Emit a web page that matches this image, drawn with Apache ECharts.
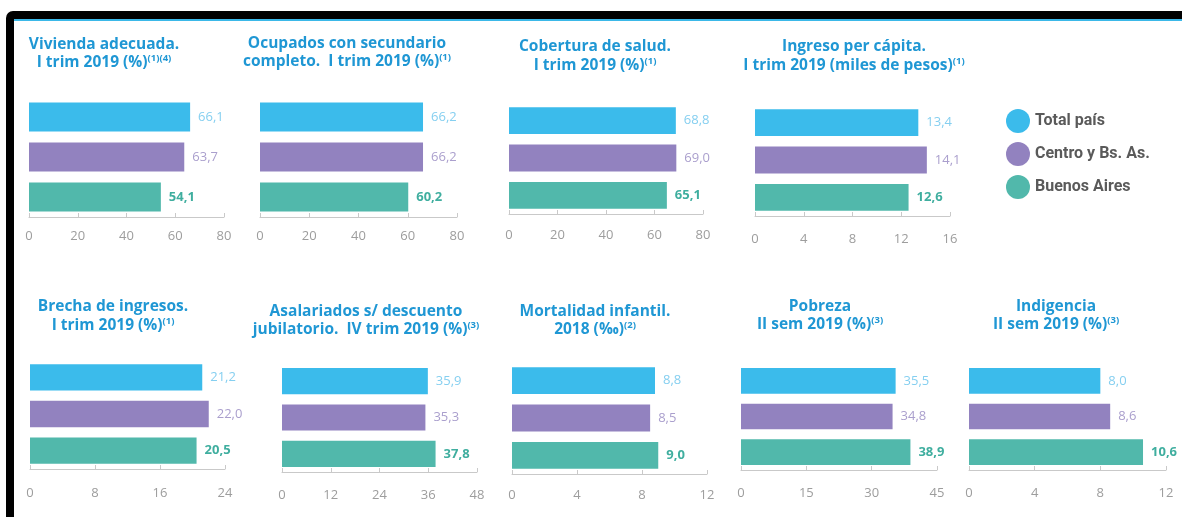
<!DOCTYPE html>
<html><head><meta charset="utf-8">
<script src="https://cdn.jsdelivr.net/npm/echarts@6/dist/echarts.min.js"></script>
<style>html,body{margin:0;padding:0;background:#fff}#c{width:1182px;height:517px}</style>
</head><body><div id="c"></div>
<script>
// ---- data ----
const categories = ['Total país', 'Centro y Bs. As.', 'Buenos Aires'];
const vivienda    = [66.1, 63.7, 54.1];
const ocupados    = [66.2, 66.2, 60.2];
const cobertura   = [68.8, 69.0, 65.1];
const ingreso     = [13.4, 14.1, 12.6];
const brecha      = [21.2, 22.0, 20.5];
const asalariados = [35.9, 35.3, 37.8];
const mortalidad  = [8.8, 8.5, 9.0];
const pobreza     = [35.5, 34.8, 38.9];
const indigencia  = [8.0, 8.6, 10.6];
const axisMax      = [80, 80, 80, 16, 24, 48, 12, 45, 12];
const axisInterval = [20, 20, 20, 4, 8, 12, 4, 15, 4];
const titleLine1 = ['Vivienda adecuada.', 'Ocupados con secundario', 'Cobertura de salud.', 'Ingreso per cápita.',
  'Brecha de ingresos.', 'Asalariados s/ descuento', 'Mortalidad infantil.', 'Pobreza', 'Indigencia'];
const titleLine2 = ['I trim 2019 (%)', 'completo.  I trim 2019 (%)', 'I trim 2019 (%)', 'I trim 2019 (miles de pesos)',
  'I trim 2019 (%)', 'jubilatorio.  IV trim 2019 (%)', '2018 (‰)', 'II sem 2019 (%)', 'II sem 2019 (%)'];
const titleNotes = ['(1)(4)', '(1)', '(1)', '(1)', '(1)', '(3)', '(2)', '(3)', '(3)'];
const panelValues = [vivienda, ocupados, cobertura, ingreso, brecha, asalariados, mortalidad, pobreza, indigencia];

// ---- layout / style ----
const layout = [
  {x0: 29, x1: 224, top: 97, bottom: 217, tx: 104, ty1: 45, ty2: 63, lm: 13},
  {x0: 260, x1: 457, top: 97, bottom: 217, tx: 347, ty1: 44, ty2: 62, lm: 13},
  {x0: 509, x1: 703, top: 102, bottom: 214, tx: 595, ty1: 47, ty2: 66, lm: 15},
  {x0: 755, x1: 950, top: 104, bottom: 216, tx: 854, ty1: 47, ty2: 66, lm: 17},
  {x0: 30, x1: 225, top: 359, bottom: 469, tx: 113, ty1: 307, ty2: 326, lm: 18},
  {x0: 282, x1: 477, top: 363, bottom: 472, tx: 366, ty1: 312, ty2: 330, lm: 17},
  {x0: 512, x1: 707, top: 362, bottom: 474, tx: 595, ty1: 312, ty2: 330, lm: 15},
  {x0: 741, x1: 937, top: 363, bottom: 470, tx: 820, ty1: 307, ty2: 325, lm: 17},
  {x0: 969, x1: 1166, top: 363, bottom: 470, tx: 1056, ty1: 307, ty2: 325, lm: 17}
];
const barColors = ['#3bbbeb', '#9282bf', '#51b8ab'];
const labelColors = ['#85cff0', '#aa9fcd', '#3fae9f'];
const titleColor = '#1f97d4';
const fmt = v => v.toFixed(1).replace('.', ',');

const grid = [], xAxis = [], yAxis = [], series = [], graphic = [];

graphic.push({type: 'rect', z: -10, shape: {x: 6, y: 11, width: 1200, height: 530, r: 7}, style: {fill: '#000'}});
graphic.push({type: 'rect', z: -9, shape: {x: 14, y: 19, width: 1200, height: 530}, style: {fill: '#fff'}});
graphic.push({type: 'rect', z: -8, shape: {x: 14, y: 19, width: 1200, height: 2}, style: {fill: '#3bb8e8'}});

layout.forEach((L, i) => {
  grid.push({left: L.x0, top: L.top, width: L.x1 - L.x0, height: L.bottom - L.top, containLabel: false});
  xAxis.push({
    type: 'value', gridIndex: i, min: 0, max: axisMax[i], interval: axisInterval[i],
    axisLine: {show: true, lineStyle: {color: '#c9c9c9', width: 1}},
    axisTick: {show: true, inside: true, length: 4, lineStyle: {color: '#c9c9c9'}},
    splitLine: {show: false},
    axisLabel: {color: '#9d9d9d', fontSize: 13, fontFamily: 'Open Sans', margin: L.lm}
  });
  yAxis.push({type: 'category', gridIndex: i, data: categories, inverse: true, show: false});
  categories.forEach((c, s) => {
    series.push({
      type: 'bar', name: c, xAxisIndex: i, yAxisIndex: i,
      data: categories.map((cc, j) => j === s ? panelValues[i][j] : '-'),
      barGap: '-100%', barCategoryGap: '28%',
      itemStyle: {color: barColors[s]},
      label: {
        show: true, position: 'right', distance: 8,
        formatter: p => fmt(p.value),
        color: labelColors[s], fontSize: 13, fontFamily: 'Open Sans',
        fontWeight: s === 2 ? 'bold' : 'normal'
      },
      emphasis: {disabled: true}
    });
  });
  const rich = {
    t: {fontFamily: 'Open Sans', fontWeight: 'bold', fontSize: 15.5, fill: titleColor, lineHeight: 19},
    s: {fontFamily: 'Open Sans', fontWeight: 'bold', fontSize: 9.5, fill: titleColor, lineHeight: 12, verticalAlign: 'top'}
  };
  graphic.push({type: 'text', z: 10, x: L.tx, y: L.ty1,
    style: {text: titleLine1[i], fill: titleColor, font: 'bold 15.5px "Open Sans"', align: 'center', verticalAlign: 'middle'}});
  graphic.push({type: 'text', z: 10, x: L.tx, y: L.ty2,
    style: {text: '{t|' + titleLine2[i] + '}{s|' + titleNotes[i] + '}', fill: titleColor, rich: rich, align: 'center', verticalAlign: 'middle'}});
});

const chart = echarts.init(document.getElementById('c'), null, {renderer: 'canvas'});
chart.setOption({
  animation: false,
  grid, xAxis, yAxis, series, graphic,
  legend: {
    orient: 'vertical', left: 1001, top: 104, icon: 'circle',
    itemWidth: 24, itemHeight: 24, itemGap: 9,
    data: categories,
    textStyle: {fontFamily: 'Roboto', fontWeight: 'bold', fontSize: 16, color: '#5a5a5a'}
  }
});
</script></body></html>
